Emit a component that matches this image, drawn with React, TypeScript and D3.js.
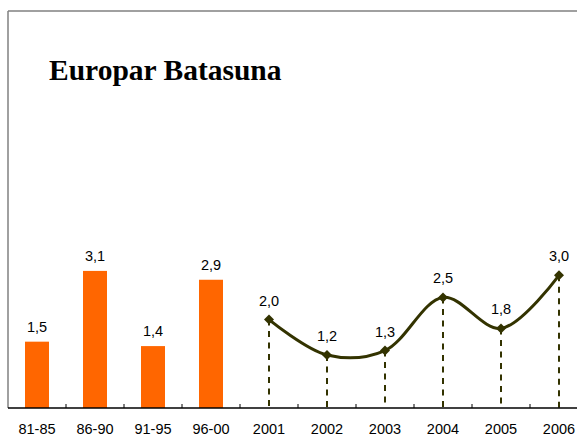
import React from "react";
import * as d3 from "d3";

const categories = ["81-85", "86-90", "91-95", "96-00", "2001", "2002", "2003", "2004", "2005", "2006"];
const barCategories = ["81-85", "86-90", "91-95", "96-00"];
const barValues = [1.5, 3.1, 1.4, 2.9];
const lineCategories = ["2001", "2002", "2003", "2004", "2005", "2006"];
const lineValues = [2.0, 1.2, 1.3, 2.5, 1.8, 3.0];
const title = "Europar Batasuna";

const W = 577;
const H = 439;
const fmt = (v: number) => v.toFixed(1).replace(".", ",");

export default function App() {
  const x = d3.scaleBand<string>().domain(categories).range([8, 588]).paddingInner(0).paddingOuter(0);
  const y = d3.scaleLinear().domain([0, 9]).range([408, 10]);
  const bw = 24;
  const bandW = x.bandwidth();
  const cx = (c: string) => (x(c) as number) + bandW / 2;
  const pts: [number, number][] = lineCategories.map((c, i) => [cx(c), y(lineValues[i])]);
  const line = d3.line().curve(d3.curveCatmullRom.alpha(0.5))(pts) as string;
  const lineColor = "#333300";
  const font = "Arial, 'Liberation Sans', sans-serif";

  return (
    <svg width={W} height={H} style={{ position: "absolute", left: 0, top: 0, background: "#fff" }}>
      <rect x={0} y={0} width={W} height={H} fill="#fff" />
      {/* frame */}
      <line x1={8} y1={11} x2={W} y2={11} stroke="#808080" strokeWidth={1.5} />
      <line x1={8} y1={11} x2={8} y2={408} stroke="#808080" strokeWidth={1.5} />
      <text x={49} y={80} fontFamily="'Liberation Serif', 'DejaVu Serif', serif" fontWeight="bold" fontSize={29.5} fill="#000">
        {title}
      </text>
      {/* bars */}
      {barCategories.map((c, i) => (
        <g key={c}>
          <rect x={cx(c) - bw / 2} y={y(barValues[i])} width={bw} height={y(0) - y(barValues[i])} fill="#FF6600" />
          <text x={cx(c)} y={y(barValues[i]) - 10} textAnchor="middle" fontFamily={font} fontSize={14.5} fill="#000">
            {fmt(barValues[i])}
          </text>
        </g>
      ))}
      {/* drop lines */}
      {pts.map(([px, py], i) => (
        <line key={"d" + i} x1={px} y1={py} x2={px} y2={408} stroke={lineColor} strokeWidth={2} strokeDasharray="6,5.5" />
      ))}
      {/* axis */}
      <line x1={8} y1={408} x2={W} y2={408} stroke="#000" strokeWidth={1.5} />
      {categories.slice(1).map((c) => (
        <line key={"t" + c} x1={x(c) as number} y1={408} x2={x(c) as number} y2={404} stroke="#000" strokeWidth={1} />
      ))}
      <path d={line} fill="none" stroke={lineColor} strokeWidth={3} />
      {pts.map(([px, py], i) => (
        <g key={"m" + i}>
          <path d={`M${px},${py - 5}L${px + 5},${py}L${px},${py + 5}L${px - 5},${py}Z`} fill={lineColor} />
          <text x={px} y={py - 14} textAnchor="middle" fontFamily={font} fontSize={14.5} fill="#000">
            {fmt(lineValues[i])}
          </text>
        </g>
      ))}
      {categories.map((c) => (
        <text key={"l" + c} x={cx(c)} y={433.5} textAnchor="middle" fontFamily={font} fontSize={14.5} fill="#000">
          {c}
        </text>
      ))}
    </svg>
  );
}
